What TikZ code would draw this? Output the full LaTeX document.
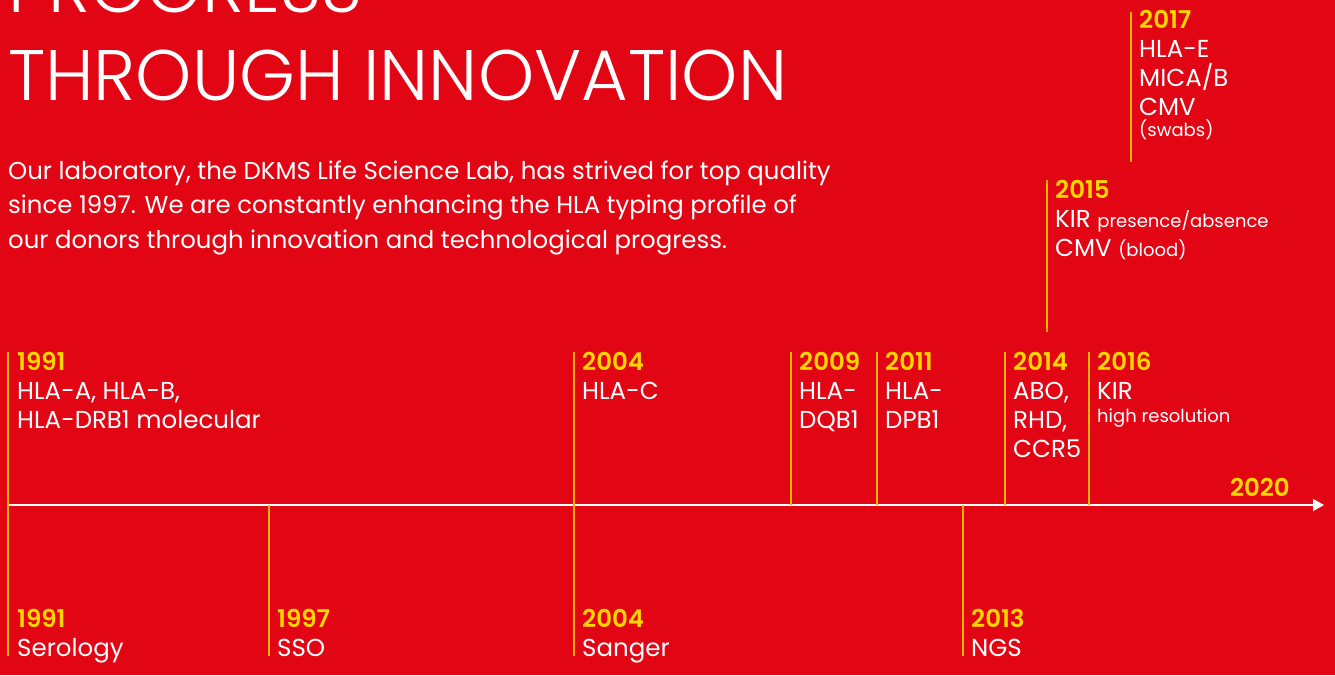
\documentclass[tikz,border=0pt]{standalone}
\usepackage{fontspec}
\setmainfont{Poppins}
\newfontfamily\titlefont{Poppins Light}
\newfontfamily\yearfont{Poppins SemiBold}
\usetikzlibrary{arrows.meta}
\definecolor{dkmsred}{RGB}{226,6,21}
\definecolor{yearyellow}{RGB}{255,214,0}
\definecolor{tickorange}{RGB}{250,180,0}
\newcommand{\yr}[1]{\textcolor{yearyellow}{\yearfont #1}}
\newcommand{\smalltxt}[1]{{\fontsize{18}{22}\selectfont #1}}
\begin{document}
\begin{tikzpicture}[x=1pt,y=-1pt,
	entry/.style={anchor=base west,inner sep=0pt,text=white,align=left,font=\fontsize{24.5}{29}\selectfont},
	tick/.style={draw=tickorange,line width=1.5pt}]
	\fill[dkmsred] (0,0) rectangle (1335,675);
	\useasboundingbox (0,0) rectangle (1335,675);
	% heading and intro (nodes sit on the baseline of their last line)
	\node[anchor=base west,inner sep=0pt,text=white,align=left,font=\titlefont\fontsize{71.5}{88}\selectfont] (title) at (8,100) {PROGRESS\\THROUGH INNOVATION};
	\node[anchor=base west,inner sep=0pt,text=white,align=left,font=\fontsize{24.4}{34.5}\selectfont] (intro) at (8,248) {Our laboratory, the DKMS Life Science Lab, has strived for top quality\\since 1997. We are constantly enhancing the HLA typing profile of\\our donors through innovation and technological progress.};
	% time axis
	\coordinate (axisstart) at (8,505);
	\coordinate (axisend) at (1324,505);
	\draw[white,line width=1.5pt,-{Triangle[length=11pt,width=12pt]}] (axisstart) -- (axisend);
	\node[anchor=base east,inner sep=0pt,font=\fontsize{24.5}{29}\selectfont] (y2020) at (1290,496) {\yr{2020}};
	% ticks
	\foreach \x in {8,574,791,877,1005,1089}
		\draw[tick] (\x,352) -- (\x,505);
	\foreach \x in {8,269,574,963}
		\draw[tick] (\x,505) -- (\x,656);
	\draw[tick] (1047,180) -- (1047,332);
	\draw[tick] (1131,12) -- (1131,162);
	% upper entries
	\node[entry] (up1991) at (17,428) {\yr{1991}\\HLA-A, HLA-B,\\HLA-DRB1 molecular};
	\node[entry] (up2004) at (582,399) {\yr{2004}\\HLA-C};
	\node[entry] (up2009) at (799,428) {\yr{2009}\\HLA-\\DQB1};
	\node[entry] (up2011) at (885,428) {\yr{2011}\\HLA-\\DPB1};
	\node[entry] (up2014) at (1013,457) {\yr{2014}\\ABO,\\RHD,\\CCR5};
	\node[entry] (up2016) at (1097,422) {\yr{2016}\\KIR\\[-6pt]\smalltxt{high resolution}};
	\node[entry] (up2015) at (1055,256) {\yr{2015}\\KIR \smalltxt{presence/absence}\\CMV \smalltxt{(blood)}};
	\node[entry] (up2017) at (1139,136) {\yr{2017}\\HLA-E\\MICA/B\\CMV\\[-8pt]\smalltxt{(swabs)}};
	% lower entries
	\node[entry] (dn1991) at (17,656) {\yr{1991}\\Serology};
	\node[entry] (dn1997) at (277,656) {\yr{1997}\\SSO};
	\node[entry] (dn2004) at (582,656) {\yr{2004}\\Sanger};
	\node[entry] (dn2013) at (971,656) {\yr{2013}\\NGS};
\end{tikzpicture}
\end{document}
